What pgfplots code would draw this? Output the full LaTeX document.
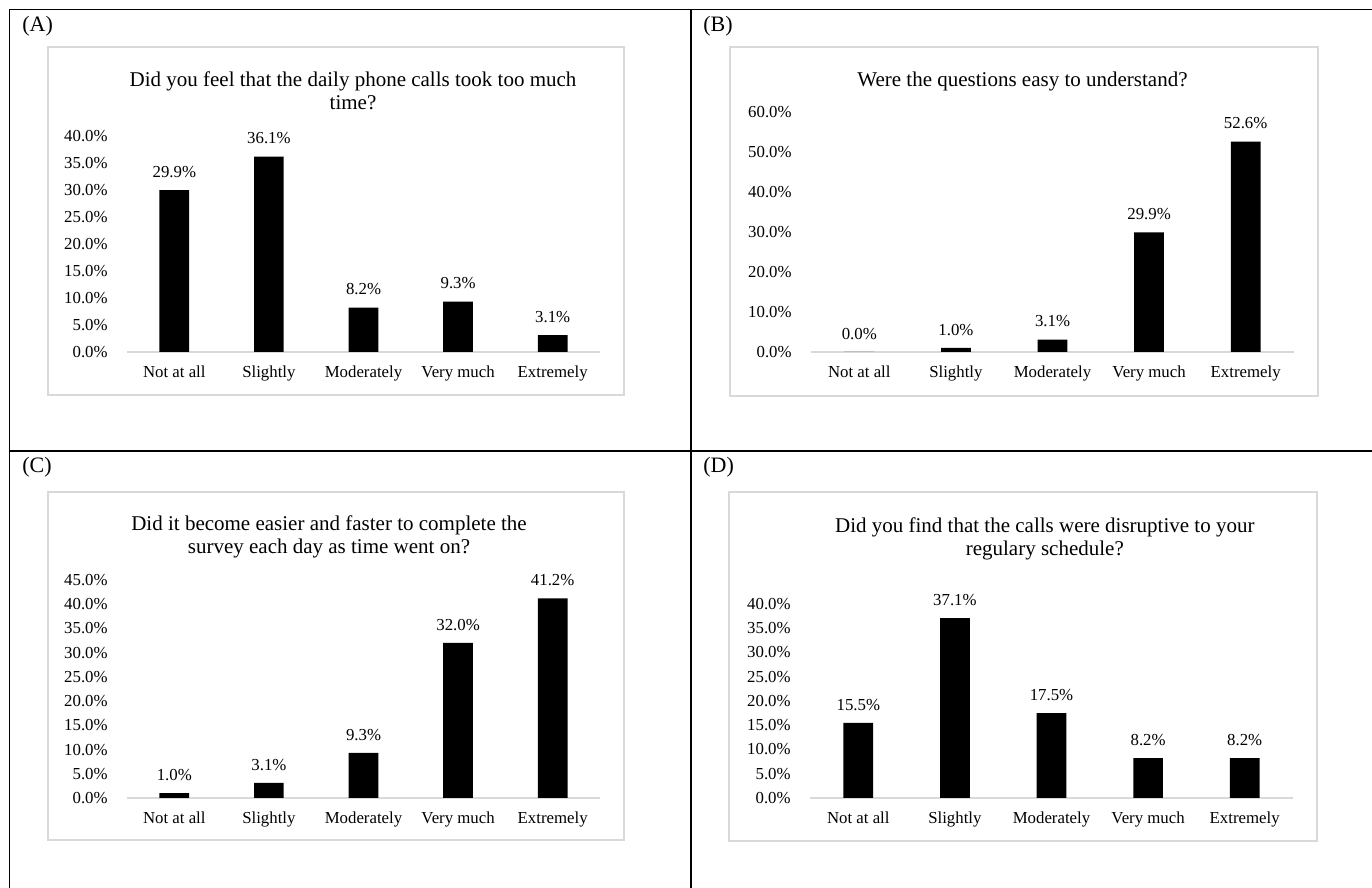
\documentclass[border=0pt]{standalone}
\usepackage{fontspec}
\setmainfont{Liberation Serif}
\usepackage{pgfplots}
\pgfplotsset{compat=1.18}
\definecolor{framegray}{HTML}{D9D9D9}
\pgfplotsset{
 surv/.style={
  scale only axis, anchor=south west, xmin=-0.5, xmax=4.5, ymin=0,
  axis line style={draw=none}, major tick length=0pt, tick style={draw=none},
  xtick={0,...,4}, xticklabels={Not at all,Slightly,Moderately,Very much,Extremely},
  tick label style={font=\fontsize{8.4}{10}\selectfont},
  xticklabel style={anchor=base, inner sep=0pt, yshift=-13pt},
  yticklabel style={anchor=east, inner sep=0pt, xshift=-9.5pt},
  ybar, bar width=14.85pt, clip=false,
  nodes near coords={\pgfmathprintnumber[fixed,fixed zerofill,precision=1,assume math mode=true]{\pgfplotspointmeta}\%},
  every node near coord/.append style={anchor=base, inner sep=0pt, yshift=6.4pt, font=\fontsize{8.4}{10}\selectfont, text=black},
 }
}
\begin{document}
\begin{tikzpicture}
\useasboundingbox (0,0) rectangle (686pt,444pt);
% table lines
\draw[line width=0.75pt] (4.75pt,-2pt) -- (4.75pt,439.25pt) -- (690pt,439.25pt);
\draw[line width=0.75pt] (345.5pt,-2pt) -- (345.5pt,439.25pt);
\draw[line width=0.75pt] (4.75pt,218.5pt) -- (690pt,218.5pt);
% chart frames
\draw[framegray, line width=0.75pt] (24pt,246.5pt) rectangle (312pt,420.5pt);
\draw[framegray, line width=0.75pt] (365pt,246pt) rectangle (659pt,420.5pt);
\draw[framegray, line width=0.75pt] (24pt,24pt) rectangle (312pt,198pt);
\draw[framegray, line width=0.75pt] (364.5pt,23.5pt) rectangle (658.5pt,198pt);
% panel labels
\node[anchor=base west, inner sep=0pt, font=\fontsize{11}{13}\selectfont] at (11pt,428pt) {(A)};
\node[anchor=base west, inner sep=0pt, font=\fontsize{11}{13}\selectfont] at (351.5pt,428pt) {(B)};
\node[anchor=base west, inner sep=0pt, font=\fontsize{11}{13}\selectfont] at (11pt,207.5pt) {(C)};
\node[anchor=base west, inner sep=0pt, font=\fontsize{11}{13}\selectfont] at (351.5pt,207.5pt) {(D)};
% titles
\begin{scope}[every node/.style={anchor=base, inner sep=0pt, font=\fontsize{10.5}{12}\selectfont}]
\node at (176.5pt,400.5pt) {Did you feel that the daily phone calls took too much};
\node at (176.5pt,389pt) {time?};
\node at (511.25pt,400.5pt) {Were the questions easy to understand?};
\node at (164.5pt,178.5pt) {Did it become easier and faster to complete the};
\node at (164.5pt,167pt) {survey each day as time went on?};
\node at (522.4pt,177.6pt) {Did you find that the calls were disruptive to your};
\node at (522.4pt,166.4pt) {regulary schedule?};
\end{scope}
% (A)
\begin{axis}[surv, at={(63.5pt,268pt)}, width=236.5pt, height=108.2pt, ymax=40,
  ytick={0,5,...,40}, yticklabels={0.0\%,5.0\%,10.0\%,15.0\%,20.0\%,25.0\%,30.0\%,35.0\%,40.0\%}]
\draw[framegray, line width=0.75pt] (axis cs:-0.5,0) -- (axis cs:4.5,0);
\addplot[fill=black, draw=none] coordinates {(0,29.9) (1,36.1) (2,8.2) (3,9.3) (4,3.1)};
\end{axis}
% (B)
\begin{axis}[surv, at={(405.5pt,268pt)}, width=241.5pt, height=120pt, ymax=60,
  ytick={0,10,...,60}, yticklabels={0.0\%,10.0\%,20.0\%,30.0\%,40.0\%,50.0\%,60.0\%}]
\draw[framegray, line width=0.75pt] (axis cs:-0.5,0) -- (axis cs:4.5,0);
\addplot[fill=black, draw=none] coordinates {(0,0.0) (1,1.0) (2,3.1) (3,29.9) (4,52.6)};
\end{axis}
% (C)
\begin{axis}[surv, at={(63.5pt,45pt)}, width=236.5pt, height=109pt, ymax=45,
  ytick={0,5,...,45}, yticklabels={0.0\%,5.0\%,10.0\%,15.0\%,20.0\%,25.0\%,30.0\%,35.0\%,40.0\%,45.0\%}]
\draw[framegray, line width=0.75pt] (axis cs:-0.5,0) -- (axis cs:4.5,0);
\addplot[fill=black, draw=none] coordinates {(0,1.0) (1,3.1) (2,9.3) (3,32.0) (4,41.2)};
\end{axis}
% (D)
\begin{axis}[surv, at={(405pt,45pt)}, width=241.5pt, height=97pt, ymax=40,
  ytick={0,5,...,40}, yticklabels={0.0\%,5.0\%,10.0\%,15.0\%,20.0\%,25.0\%,30.0\%,35.0\%,40.0\%}]
\draw[framegray, line width=0.75pt] (axis cs:-0.5,0) -- (axis cs:4.5,0);
\addplot[fill=black, draw=none] coordinates {(0,15.5) (1,37.1) (2,17.5) (3,8.2) (4,8.2)};
\end{axis}
\end{tikzpicture}
\end{document}
